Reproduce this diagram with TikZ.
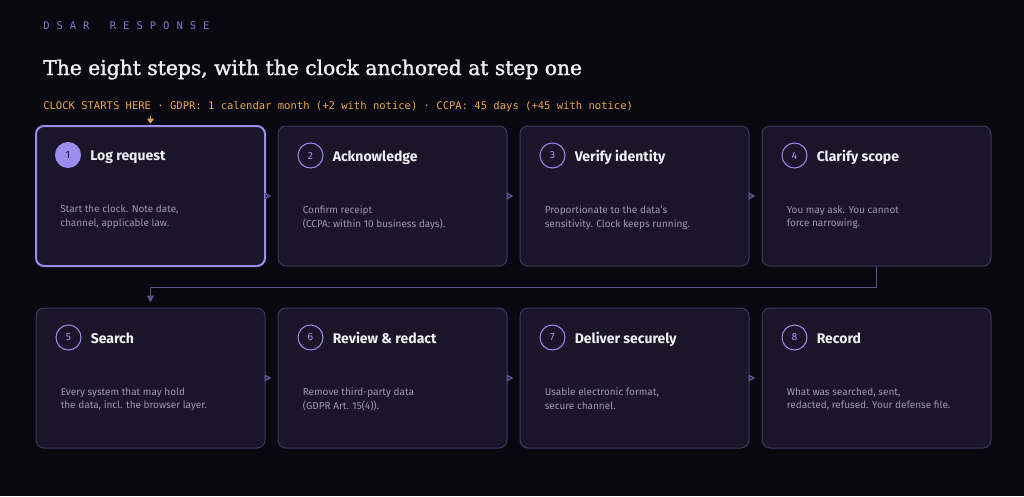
\documentclass[tikz,border=0pt]{standalone}
\usepackage{fontspec}
\setmainfont{DejaVu Serif}
\setsansfont{Fira Sans}
\setmonofont{DejaVu Sans Mono}
\newfontfamily\headfont{DejaVu Serif}[FakeBold=1.5]
\usetikzlibrary{arrows.meta,positioning}

\newdimen\px \px=0.75pt
\newcommand{\tk}{\kern5.24pt}

\definecolor{bg}{HTML}{09070F}
\definecolor{cardfill}{HTML}{1A1529}
\definecolor{cardline}{HTML}{3E3760}
\definecolor{accent}{HTML}{9D8CF0}
\definecolor{accentsoft}{HTML}{A595F0}
\definecolor{kicker}{HTML}{7F74D0}
\definecolor{titlewhite}{HTML}{F2F0F7}
\definecolor{clockorange}{HTML}{E9A846}
\definecolor{bodygray}{HTML}{9C97AD}
\definecolor{flowline}{HTML}{5B5290}

\begin{document}
\begin{tikzpicture}[x=0.75pt,y=0.75pt,node distance=242\px,
    card/.style={draw=cardline,fill=cardfill,line width=1\px,rounded corners=8\px,
                 minimum width=229\px,minimum height=140\px,inner sep=0pt},
    active card/.style={card,draw=accent,line width=2\px},
    badge/.style={circle,draw=accent,line width=1\px,minimum size=25\px,inner sep=0pt,
                  text=accentsoft,font=\sffamily\fontsize{7.8pt}{9pt}\selectfont},
    active badge/.style={badge,fill=accent,text=cardfill},
    step title/.style={anchor=base west,inner sep=0pt,text=titlewhite,
                       font=\sffamily\bfseries\fontsize{10.5pt}{12pt}\selectfont},
    step text/.style={anchor=north west,inner sep=0pt,align=left,text=bodygray,
                      font=\sffamily\fontsize{7.5pt}{10.1pt}\selectfont},
    flow/.style={draw=flowline,line width=1.125pt,-{Triangle[length=5.25pt,width=5.25pt]}}]

  \fill[bg] (0,0) rectangle (1024,-496);
  \useasboundingbox (0,0) rectangle (1024,-496);

  % header
  \node[anchor=base west,inner sep=0pt,text=kicker,font=\ttfamily\fontsize{7.9pt}{9pt}\selectfont]
    (kicker) at (43,-29.5) {D\tk S\tk A\tk R\tk\ \tk R\tk E\tk S\tk P\tk O\tk N\tk S\tk E};
  \node[anchor=base west,inner sep=0pt,text=titlewhite,font=\headfont\fontsize{15.2pt}{18pt}\selectfont]
    (headline) at (43,-75) {The eight steps, with the clock anchored at step one};
  \node[anchor=base west,inner sep=0pt,text=clockorange,font=\ttfamily\fontsize{7.9pt}{10pt}\selectfont]
    (clock) at (43,-109) {CLOCK STARTS HERE · GDPR: 1 calendar month (+2 with notice) · CCPA: 45 days (+45 with notice)};

  % cards
  \node[active card] (c1) at (150.5,-196) {};
  \node[card] (c2) [right of=c1] {};
  \node[card] (c3) [right of=c2] {};
  \node[card] (c4) [right of=c3] {};
  \node[card] (c5) [below of=c1,node distance=182\px] {};
  \node[card] (c6) [right of=c5] {};
  \node[card] (c7) [right of=c6] {};
  \node[card] (c8) [right of=c7] {};

  % card contents
  \node[active badge] (b1) at ([xshift=33\px,yshift=-30\px]c1.north west) {1};
  \node[step title] (t1) at ([xshift=55\px,yshift=-35.5\px]c1.north west) {Log request};
  \node[step text] (d1) at ([xshift=25\px,yshift=-80\px]c1.north west) {Start the clock. Note date,\\channel, applicable law.};

  \node[badge] (b2) at ([xshift=33\px,yshift=-30\px]c2.north west) {2};
  \node[step title] (t2) at ([xshift=55\px,yshift=-35.5\px]c2.north west) {Acknowledge};
  \node[step text] (d2) at ([xshift=25\px,yshift=-80\px]c2.north west) {Confirm receipt\\(CCPA: within 10 business days).};

  \node[badge] (b3) at ([xshift=33\px,yshift=-30\px]c3.north west) {3};
  \node[step title] (t3) at ([xshift=55\px,yshift=-35.5\px]c3.north west) {Verify identity};
  \node[step text] (d3) at ([xshift=25\px,yshift=-80\px]c3.north west) {Proportionate to the data's\\sensitivity. Clock keeps running.};

  \node[badge] (b4) at ([xshift=33\px,yshift=-30\px]c4.north west) {4};
  \node[step title] (t4) at ([xshift=55\px,yshift=-35.5\px]c4.north west) {Clarify scope};
  \node[step text] (d4) at ([xshift=25\px,yshift=-80\px]c4.north west) {You may ask. You cannot\\force narrowing.};

  \node[badge] (b5) at ([xshift=33\px,yshift=-30\px]c5.north west) {5};
  \node[step title] (t5) at ([xshift=55\px,yshift=-35.5\px]c5.north west) {Search};
  \node[step text] (d5) at ([xshift=25\px,yshift=-80\px]c5.north west) {Every system that may hold\\the data, incl. the browser layer.};

  \node[badge] (b6) at ([xshift=33\px,yshift=-30\px]c6.north west) {6};
  \node[step title] (t6) at ([xshift=55\px,yshift=-35.5\px]c6.north west) {Review \& redact};
  \node[step text] (d6) at ([xshift=25\px,yshift=-80\px]c6.north west) {Remove third-party data\\(GDPR Art. 15(4)).};

  \node[badge] (b7) at ([xshift=33\px,yshift=-30\px]c7.north west) {7};
  \node[step title] (t7) at ([xshift=55\px,yshift=-35.5\px]c7.north west) {Deliver securely};
  \node[step text] (d7) at ([xshift=25\px,yshift=-80\px]c7.north west) {Usable electronic format,\\secure channel.};

  \node[badge] (b8) at ([xshift=33\px,yshift=-30\px]c8.north west) {8};
  \node[step title] (t8) at ([xshift=55\px,yshift=-35.5\px]c8.north west) {Record};
  \node[step text] (d8) at ([xshift=25\px,yshift=-80\px]c8.north west) {What was searched, sent,\\redacted, refused. Your defense file.};

  % connectors
  \path[flow,shorten >=4.5pt]
    (c1) edge (c2)
    (c2) edge (c3)
    (c3) edge (c4)
    (c5) edge (c6)
    (c6) edge (c7)
    (c7) edge (c8);
  \draw[flow,shorten >=3.75pt] (c4.south) -- ++(0,-21) -| (c5.north);

  \coordinate (clk) at ([yshift=6.75pt]c1.north);
  \draw[draw=clockorange,line width=0.75pt,-{Triangle[length=3.75pt,width=5.25pt]},shorten >=1.1pt] (clk) -- (c1.north);
\end{tikzpicture}
\end{document}
